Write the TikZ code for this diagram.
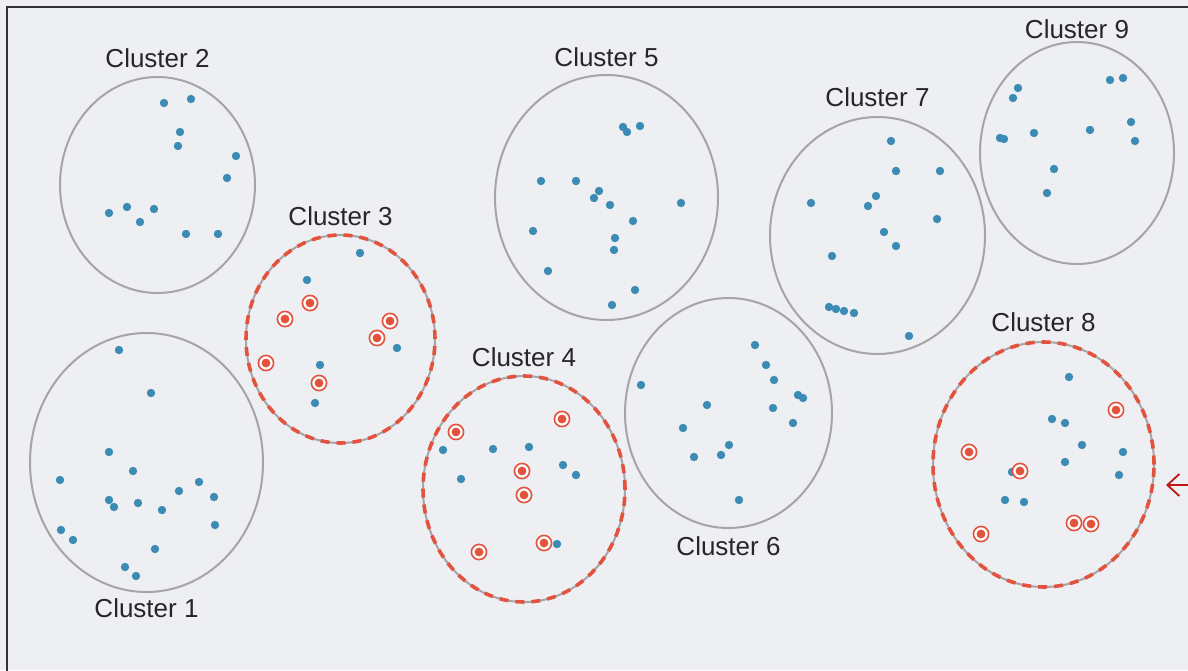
\documentclass[tikz,border=0pt]{standalone}
\usepackage{fontspec}
\setmainfont{Liberation Sans}
\usepackage{xcolor}
\definecolor{bgpaper}{RGB}{238,239,243}
\definecolor{ringgray}{RGB}{165,165,168}
\definecolor{dotblue}{RGB}{58,140,180}
\definecolor{pickred}{RGB}{226,82,60}
\definecolor{arrred}{RGB}{192,20,20}
\usepackage{tikz}
\usetikzlibrary{positioning,shapes.geometric,arrows.meta}
\newcommand{\sdot}[2]{\fill[dotblue] (#1,#2) circle (2.1pt);}
\newcommand{\pdot}[2]{%
  \draw[pickred, line width=0.8pt, fill=white] (#1,#2) circle (3.8pt);
  \fill[pickred] (#1,#2) circle (2.2pt);}

\begin{document}
\begin{tikzpicture}[
  x=0.5pt, y=-0.5pt,
  font=\fontsize{13}{15}\selectfont,
  clus/.style={ellipse, draw=ringgray, line width=1pt, inner sep=0pt},
  picked/.style={postaction={draw=pickred, line width=1.8pt, dash pattern=on 4.5pt off 3.5pt}},
  lbl/.style={text=black!85, inner sep=0pt},
  pointer/.style={-{Straight Barb[length=6pt, width=11pt]}, arrred, line width=0.9pt}]

  % --- paper and frame ---
  \fill[bgpaper] (0,0) rectangle (1188,670);
  \useasboundingbox (0,0) rectangle (1188,670);
  \draw[black!80, line width=1pt] (7,672) -- (7,7) -- (1190,7);

  % --- clusters ---
  \node[clus, minimum width=116.5pt, minimum height=129.5pt] (c1) at (146.5,462.5) {};
  \node[clus, minimum width=97.5pt,  minimum height=108pt]   (c2) at (157.5,185) {};
  \node[clus, picked, minimum width=94.5pt, minimum height=104pt] (c3) at (340.5,339) {};
  \node[clus, picked, minimum width=101pt,  minimum height=113pt] (c4) at (524,489) {};
  \node[clus, minimum width=111.5pt, minimum height=122.5pt] (c5) at (606.5,197.5) {};
  \node[clus, minimum width=103.5pt, minimum height=115pt]   (c6) at (728.5,413) {};
  \node[clus, minimum width=107.5pt, minimum height=118.5pt] (c7) at (877.5,235.5) {};
  \node[clus, picked, minimum width=110.5pt, minimum height=122.5pt] (c8) at (1043.5,464.5) {};
  \node[clus, minimum width=97pt,    minimum height=111pt]   (c9) at (1077,153) {};

  % --- labels ---
  \node[lbl, below=2.5pt of c1] (l1) {Cluster 1};
  \node[lbl, above=4pt of c2] (l2) {Cluster 2};
  \node[lbl, above=4pt of c3] (l3) {Cluster 3};
  \node[lbl, above=4pt of c4] (l4) {Cluster 4};
  \node[lbl, above=3.5pt of c5] (l5) {Cluster 5};
  \node[lbl, below=3.5pt of c6] (l6) {Cluster 6};
  \node[lbl, above=4.5pt of c7] (l7) {Cluster 7};
  \node[lbl, above=4.5pt of c8] (l8) {Cluster 8};
  \node[lbl, above=1pt of c9] (l9) {Cluster 9};

  % --- sample points ---
  \foreach \x/\y in {119/350, 151/393, 109/452, 133/471, 60/480, 109/500, 114/507,
      138/503, 162/510, 179/491, 199/482, 214/497, 215/525, 61/530, 73/540,
      155/549, 125/567, 136/576} {\sdot{\x}{\y}}
  \foreach \x/\y in {164/103, 191/99, 180/132, 178/146, 236/156, 227/178, 109/213,
      127/207, 140/222, 154/209, 186/234, 218/234} {\sdot{\x}{\y}}
  \foreach \x/\y in {360/253, 307/280, 397/348, 320/365, 315/403} {\sdot{\x}{\y}}
  \foreach \x/\y in {443/450, 493/449, 529/447, 461/479, 563/465, 576/475, 557/544} {\sdot{\x}{\y}}
  \foreach \x/\y in {623/127, 627/132, 640/126, 541/181, 576/181, 599/191, 594/198,
      610/205, 681/203, 633/221, 533/231, 615/238, 614/250, 548/271, 635/290, 612/305} {\sdot{\x}{\y}}
  \foreach \x/\y in {641/385, 755/345, 766/365, 774/380, 798/395, 803/398, 707/405,
      773/408, 683/428, 793/423, 729/445, 721/455, 694/457, 739/500} {\sdot{\x}{\y}}
  \foreach \x/\y in {891/141, 896/171, 940/171, 811/203, 868/206, 876/196, 937/219,
      884/232, 896/246, 832/256, 829/307, 836/309, 844/311, 854/313, 909/336} {\sdot{\x}{\y}}
  \foreach \x/\y in {1069/377, 1052/419, 1065/423, 1082/445, 1123/452, 1065/462,
      1119/475, 1012/472, 1005/500, 1024/502} {\sdot{\x}{\y}}
  \foreach \x/\y in {1018/88, 1013/98, 1110/80, 1123/78, 1000/138, 1004/139, 1034/133,
      1090/130, 1131/122, 1135/141, 1054/169, 1047/193} {\sdot{\x}{\y}}

  % --- sampled (ringed) points ---
  \foreach \x/\y in {310/303, 285/319, 390/321, 377/338, 266/363, 319/383,
      456/432, 562/419, 522/471, 524/495, 544/543, 479/552,
      1116/410, 969/452, 1020/471, 981/534, 1074/523, 1091/524} {\pdot{\x}{\y}}

  % --- pointer ---
  \coordinate (ptail) at (1192,485);
  \coordinate (ptip) at (1166,485);
  \draw[pointer] (ptail) -- (ptip);
\end{tikzpicture}
\end{document}
